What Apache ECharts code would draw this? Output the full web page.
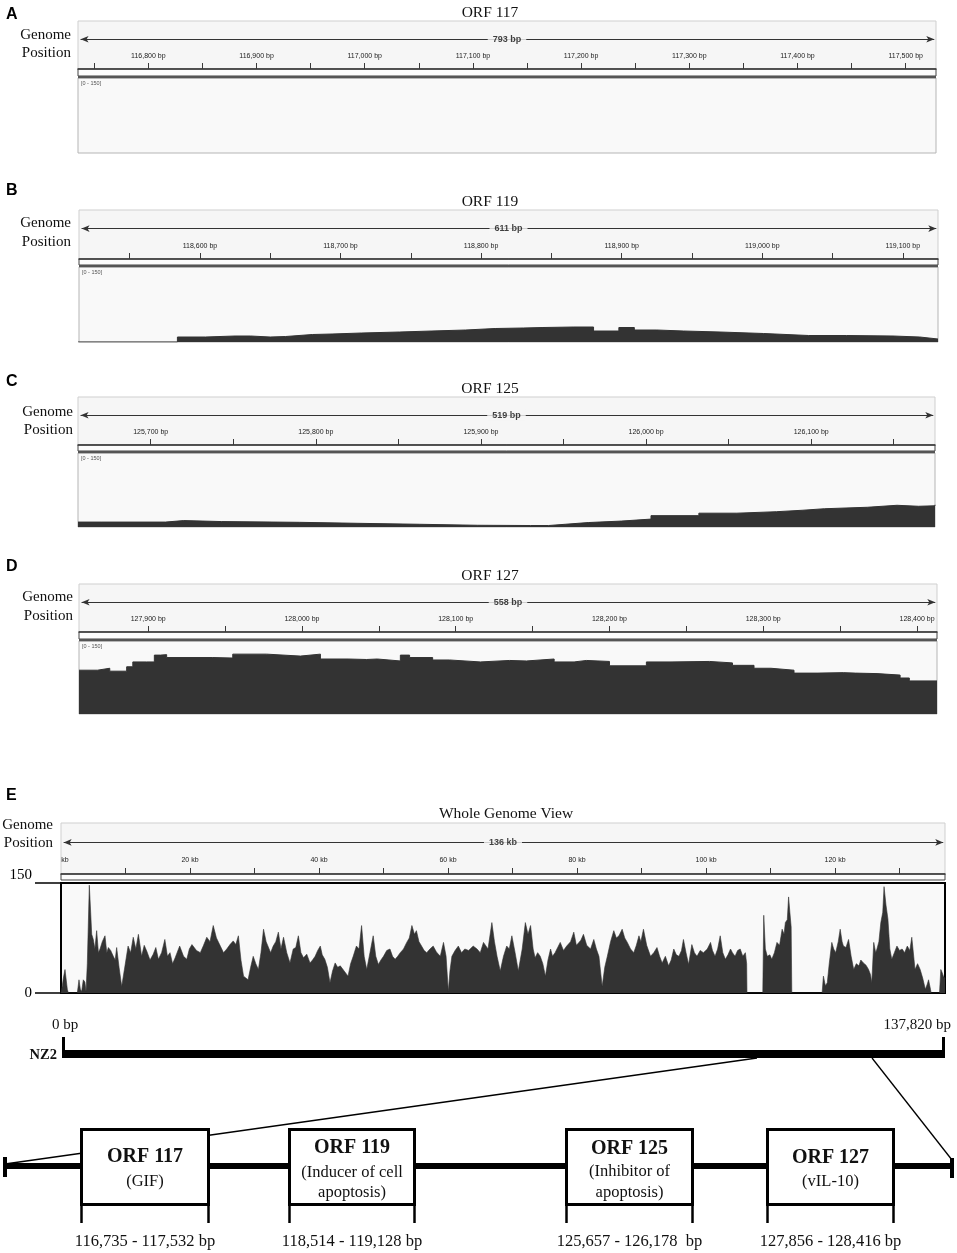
<!DOCTYPE html>
<html><head><meta charset="utf-8">
<script src="https://cdn.jsdelivr.net/npm/echarts@6/dist/echarts.min.js"></script>
<style>html,body{margin:0;padding:0;background:#fff}#c{width:957px;height:1253px}</style>
</head><body><div id="c"></div>
<script>
// ---------------- DATA ----------------
const panelLetters = ['A','B','C','D','E'];
const orfTitles = ['ORF 117','ORF 119','ORF 125','ORF 127'];
const orfSpanLabels = ['793 bp','611 bp','519 bp','558 bp'];
const orfViewStart = [116735, 118514, 125656, 127855];
const orfViewEnd   = [117528, 119125, 126175, 128413];
const coverageRange = '[0 - 150]';

const posA = [];
const covA = [];

const posB = [118513,118584,118604,118625,118636,118650,118661,118680,118694,118715,118742,118765,118789,118810,118830,118844,118866,118880,118898,118909,118925,118944,118970,119001,119033,119060,119093,119112,119125];
const covB = [0,10,12,12,10,11,15,16,18,20,22,24,27,28,29,30,30,22,29,24,22,20,17,13,13,12,10,6,6];

const posC = [125656,125670,125709,125720,125743,125790,125825,125863,125898,125930,125941,125951,125965,125985,126003,126032,126055,126079,126095,126108,126134,126152,126165,126175];
const covC = [10,10,13,11,9.5,7.5,5.5,3.5,3,3,5.5,9,12,16,23,28,31,34,37,40,44,42,43,45];

const posD = [127855,127867,127875,127883,127886,127890,127899,127904,127908,127912,127942,127955,127977,127999,128012,128030,128042,128049,128064,128070,128085,128096,128116,128135,128146,128164,128177,128185,128200,128224,128240,128265,128280,128294,128305,128320,128335,128352,128360,128374,128389,128395,128413];
const covD = [90,94,88,88,97,107,107,121,122,116,115,123,119,123,113,112,113,109,121,116,111,107,110,109,113,107,110,108,99,107,108,105,100,94,90,84,85,84,83,80,74,68,68];

const genomeTitle = 'Whole Genome View';
const genomeSpanLabel = '136 kb';
const genomeViewKb = [0, 137.05];
const genomeKb = [
 0,0.2,0.36,0.62,0.98,1.14,2.53,2.79,3.0,3.2,
 3.46,3.7,3.88,4.08,4.39,4.6,4.76,5.01,5.25,5.53,
 5.8,6.05,6.4,6.82,7.1,7.34,7.7,8.11,8.4,8.63,
 9.0,9.41,9.92,10.4,10.8,11.2,11.6,12.0,12.5,12.9,
 13.3,13.8,14.3,14.7,15.1,15.6,16.1,16.5,16.9,17.3,
 17.7,18.0,18.4,19.0,19.5,19.9,20.3,21.0,21.6,22.1,
 22.6,23.1,23.6,24.1,24.7,25.2,25.7,26.2,26.7,27.1,
 27.5,27.9,28.3,29.0,29.4,29.8,30.2,30.6,31.0,31.4,
 31.8,32.1,32.5,32.9,33.3,33.7,34.1,34.5,35.0,35.5,
 36.0,36.4,36.8,37.2,37.6,38.1,38.6,39.0,39.4,39.8,
 40.2,40.5,40.9,41.3,41.7,42.1,42.5,42.9,43.3,43.9,
 44.5,44.9,45.3,45.8,46.2,46.6,47.0,47.4,47.9,48.4,
 48.8,49.2,49.6,50.0,50.5,51.0,51.4,51.8,52.2,52.6,
 53.1,53.6,54.0,54.4,54.8,55.1,55.5,55.9,56.3,56.7,
 57.2,57.7,58.2,58.8,59.3,59.7,60.05,60.3,60.6,61.1,
 61.6,62.1,62.6,63.2,63.9,64.5,65.0,65.5,66.2,66.8,
 67.2,67.6,68.1,68.6,69.1,69.5,69.9,70.4,70.9,71.5,
 71.99,72.4,72.8,73.2,73.5,73.9,74.3,74.7,75.1,75.5,
 75.9,76.2,76.6,77.0,77.4,77.9,78.4,79.0,79.5,79.9,
 80.3,80.6,81.0,81.5,82.1,82.6,83.0,83.4,83.9,84.3,
 84.7,85.2,85.7,86.1,86.5,87.0,87.4,87.8,88.3,88.8,
 89.2,89.6,89.9,90.3,90.8,91.4,91.9,92.4,92.8,93.2,
 93.7,94.2,94.6,95.0,95.4,95.8,96.2,96.5,96.9,97.3,
 97.8,98.2,98.6,99.1,99.6,100.2,100.7,101.0,101.4,101.8,
 102.2,102.6,103.0,103.4,103.8,104.1,104.5,104.9,105.3,105.7,
 106.1,106.3,106.35,108.8,108.95,109.2,109.5,109.9,110.2,110.6,
 111.0,111.4,111.8,112.1,112.3,112.6,112.8,113.0,113.2,113.3,
 118.0,118.2,118.5,118.8,119.1,119.5,119.8,120.1,120.5,120.8,
 121.1,121.3,121.7,122.1,122.5,122.9,123.3,123.7,124.0,124.4,
 124.8,125.2,125.5,125.7,126.0,126.3,126.5,126.8,127.1,127.4,
 127.6,127.9,128.2,128.5,128.8,129.2,129.6,130.0,130.4,130.8,
 131.2,131.6,131.9,132.2,132.4,132.8,133.2,133.6,134.0,134.3,
 134.5,134.8,134.9,136.2,136.4,136.6,136.8,137.05];
const genomeCov = [
 0,10,20,32,5,0,0,18,5,2,
 18,15,2,40,147,110,80,73,60,85,
 55,60,70,78,55,62,58,50,45,62,
 35,9,37,64,55,76,60,80,50,65,
 57,45,53,62,46,55,73,50,55,40,
 48,55,64,50,46,60,66,58,55,65,
 76,70,92,75,64,55,60,66,71,66,
 78,45,23,18,35,50,40,32,55,87,
 70,69,55,64,70,83,60,76,55,41,
 60,62,78,55,48,53,41,45,50,58,
 64,52,46,35,14,30,41,35,37,30,
 23,40,50,64,60,92,50,32,55,78,
 50,39,45,50,58,60,50,46,50,55,
 60,69,75,92,80,85,70,64,58,55,
 60,64,56,50,69,50,2,30,50,58,
 64,55,60,58,64,60,55,69,60,96,
 70,50,30,50,64,60,78,55,30,60,
 96,80,92,60,48,55,50,40,23,45,
 60,50,55,62,69,58,64,70,83,65,
 69,72,80,65,60,73,60,50,9,35,
 50,70,85,75,78,87,75,69,60,55,
 65,78,70,87,65,50,55,62,50,41,
 50,37,45,60,52,50,58,73,55,39,
 66,55,50,58,55,60,69,58,50,60,
 78,55,46,52,60,55,50,58,60,50,
 55,40,0,0,106,60,50,52,46,55,
 69,65,87,80,96,100,131,110,90,0,
 0,23,10,14,40,69,60,55,70,87,
 70,64,62,73,50,32,40,37,45,41,
 38,32,25,14,69,55,60,70,96,110,
 145,120,101,60,46,55,64,58,60,55,
 64,58,76,50,32,40,32,20,5,12,
 18,5,0,0,32,28,23,20];
const genomeYTicks = [0, 150];

const genomeStartLabel = '0 bp';
const genomeEndLabel = '137,820 bp';
const genomeName = 'NZ2';
const featureNames = ['ORF 117','ORF 119','ORF 125','ORF 127'];
const featureDesc = [['(GIF)'],['(Inducer of cell','apoptosis)'],['(Inhibitor of','apoptosis)'],['(vIL-10)']];
const featureRanges = ['116,735 - 117,532 bp','118,514 - 119,128 bp','125,657 - 126,178  bp','127,856 - 128,416 bp'];

// ---------------- LAYOUT ----------------
const serif = '"Liberation Serif","Times New Roman",serif';
const sans = '"Liberation Sans",Arial,sans-serif';
const layout = [
 {letterY:15, titleX:490, titleY:13, hTop:21, hBot:69, dTop:78, dBot:153, left:78, right:936, gpX:71, gpY1:35, gpY2:53},
 {letterY:191, titleX:490, titleY:202, hTop:210, hBot:259, dTop:267, dBot:342, left:79, right:938, gpX:71, gpY1:223, gpY2:242},
 {letterY:382, titleX:490, titleY:389, hTop:397, hBot:445, dTop:453, dBot:527, left:78, right:935, gpX:73, gpY1:412, gpY2:430},
 {letterY:567, titleX:490, titleY:576, hTop:584, hBot:632, dTop:641, dBot:714, left:79, right:937, gpX:73, gpY1:597, gpY2:616},
 {letterY:796, titleX:506, titleY:814, hTop:823, hBot:874, dTop:883, dBot:993, left:61, right:945, gpX:53, gpY1:825, gpY2:843}
];

const grid = [], xAxis = [], yAxis = [], series = [], graphic = [];
function T(text, x, y, font, align, fill, vAlign) {
  graphic.push({type:'text', x:x, y:y, silent:true, style:{text:text, font:font, fill:fill||'#000', align:align||'left', verticalAlign:vAlign||'middle'}});
}
function R(x, y, w, h, fill, stroke, lw) {
  graphic.push({type:'rect', silent:true, shape:{x:x, y:y, width:w, height:h}, style:{fill:fill||'none', stroke:stroke||null, lineWidth:lw||0}});
}
function Ln(x1, y1, x2, y2, w, c) {
  graphic.push({type:'line', silent:true, shape:{x1:x1, y1:y1, x2:x2, y2:y2}, style:{stroke:c||'#000', lineWidth:w}});
}
function range(a, b, s) { const r = []; for (let v = a; v <= b + 1e-9; v += s) r.push(v); return r; }

const panelData = [
  {pos:posA, cov:covA}, {pos:posB, cov:covB}, {pos:posC, cov:covC}, {pos:posD, cov:covD},
  {pos:genomeKb, cov:genomeCov}
];

for (let k = 0; k < 5; k++) {
  const l = layout[k];
  const isE = k === 4;
  const min = isE ? genomeViewKb[0] : orfViewStart[k];
  const max = isE ? genomeViewKb[1] : orfViewEnd[k];
  const w = l.right - l.left;
  const tickStep = isE ? 10 : 50, labStep = isE ? 20 : 100;
  const ticks = range(Math.ceil(min / tickStep) * tickStep, max, tickStep).filter(v => !(isE && v === 0));
  const labs = range(Math.ceil(min / labStep) * labStep, max, labStep);

  // header ruler grid
  const gH = grid.length;
  grid.push({left:l.left, top:l.hTop, width:w, height:l.hBot - l.hTop, show:true, backgroundColor:'#f6f6f6', borderColor:'#cfcfcf', borderWidth:1});
  xAxis.push({gridIndex:gH, type:'value', min:min, max:max, position:'bottom',
    axisLine:{show:true, onZero:false, lineStyle:{color:'#3a3a3a', width:1.5}},
    axisTick:{show:true, inside:true, length:6, customValues:ticks, lineStyle:{color:'#3a3a3a', width:1}},
    axisLabel:{show:true, inside:true, margin:isE ? 10 : 9, fontSize:7, fontFamily:sans, color:'#222', customValues:labs,
      formatter: v => isE ? (v === 0 ? '{k|kb}' : v + ' kb') : v.toLocaleString('en-US') + ' bp',
      rich:{k:{fontSize:7, fontFamily:sans, color:'#222', padding:[0,0,0,8]}}},
    splitLine:{show:false}});
  yAxis.push({gridIndex:gH, type:'value', min:0, max:1, show:false});
  const arrowY = 0.62, span = max - min;
  series.push({type:'line', xAxisIndex:gH, yAxisIndex:gH, data:[[min, -5]], symbol:'none', silent:true,
    lineStyle:{opacity:0},
    markLine:{silent:true, symbol:['arrow','arrow'], symbolSize:[5,8], animation:false,
      lineStyle:{color:'#333', width:1, type:'solid'}, label:{show:false}, emphasis:{disabled:true},
      data:[[{coord:[min + span * 0.003, arrowY]}, {coord:[max - span * 0.002, arrowY]}]]}});
  series.push({type:'scatter', xAxisIndex:gH, yAxisIndex:gH, z:10, silent:true,
    data:[[(min + max) / 2, arrowY]], symbolSize:1, itemStyle:{color:'rgba(0,0,0,0)'},
    label:{show:true, position:'inside', formatter: isE ? genomeSpanLabel : orfSpanLabels[k],
      fontSize:9, fontWeight:'bold', fontFamily:sans, color:'#111', backgroundColor:'#f6f6f6', padding:[1,5]}});

  // data track grid
  const gD = grid.length;
  grid.push({left:l.left, top:l.dTop, width:w, height:l.dBot - l.dTop, show:true, backgroundColor:'#f9f9f9',
    borderColor: isE ? '#000' : '#b5b5b5', borderWidth: isE ? 2 : 1});
  xAxis.push({gridIndex:gD, type:'value', min:min, max:max, show:false});
  if (isE) {
    yAxis.push({gridIndex:gD, type:'value', min:0, max:150, interval:150,
      axisLine:{show:false}, axisTick:{show:true, length:26, lineStyle:{color:'#000', width:1.5}},
      axisLabel:{show:true, margin:29, fontSize:15, fontFamily:serif, color:'#000', verticalAlignMaxLabel:'bottom'},
      splitLine:{show:false}});
  } else {
    yAxis.push({gridIndex:gD, type:'value', min:0, max:150, show:false});
  }
  const pd = panelData[k];
  series.push({type:'line', xAxisIndex:gD, yAxisIndex:gD, silent:true, symbol:'none', animation:false,
    step: isE ? false : 'end',
    data: pd.pos.map((p, i) => [p, pd.cov[i]]),
    lineStyle:{color:'#333', width: isE ? 0.6 : 1}, areaStyle:{color:'#333', opacity:1}});

  // decorations
  if (isE) {
    R(l.left, l.hBot, w, 6, '#fcfcfc', '#444', 1);
  } else {
    R(l.left, l.hBot, w, l.dTop - l.hBot - 2, '#fcfcfc', '#444', 1);
    R(l.left, l.dTop - 2, w, 2.2, '#555');
    T(coverageRange, l.left + 3, l.dTop + 5, '5.5px ' + sans, 'left', '#555');
  }
  T(panelLetters[k], 6, l.letterY, 'bold 16px ' + sans, 'left', '#000');
  T(isE ? genomeTitle : orfTitles[k], l.titleX, l.titleY, '15.5px ' + serif, 'center', '#111');
  T('Genome', l.gpX, l.gpY1, '15px ' + serif, 'right', '#111');
  T('Position', l.gpX, l.gpY2, '15px ' + serif, 'right', '#111');
}

// ---------------- SCHEMATIC ----------------
T(genomeStartLabel, 52, 1025, '15px ' + serif, 'left', '#111');
T(genomeEndLabel, 951, 1025, '15px ' + serif, 'right', '#111');
T(genomeName, 57, 1055, 'bold 14.5px ' + serif, 'right', '#111');
R(62, 1050, 883, 8, '#000');
R(62, 1037, 3, 21, '#000');
R(942, 1037, 3, 21, '#000');
Ln(757, 1058, 5, 1164, 1.3);
Ln(872, 1058, 952, 1160, 1.3);
R(5, 1163, 947, 6, '#000');
R(3, 1157, 4, 20, '#000');
R(950, 1158, 4, 20, '#000');
const boxLayout = [
  {x:81.5, w:127, tY:1157, dY:[1182]},
  {x:289.5, w:125, tY:1148, dY:[1173,1193]},
  {x:566.5, w:126, tY:1149, dY:[1172,1193]},
  {x:767.5, w:126, tY:1158, dY:[1182]}
];
boxLayout.forEach((b, i) => {
  R(b.x, 1129.5, b.w, 75, '#fff', '#000', 3);
  Ln(b.x, 1205, b.x, 1223, 2.5);
  Ln(b.x + b.w, 1205, b.x + b.w, 1223, 2.5);
  const cx = b.x + b.w / 2;
  T(featureNames[i], cx, b.tY, 'bold 20px ' + serif, 'center', '#111');
  featureDesc[i].forEach((s, j) => T(s, cx, b.dY[j], '16.5px ' + serif, 'center', '#111'));
  T(featureRanges[i], cx, 1242, '16.5px ' + serif, 'center', '#111');
});

const chart = echarts.init(document.getElementById('c'), null, {renderer:'canvas'});
chart.setOption({animation:false, backgroundColor:'#fff', grid, xAxis, yAxis, series, graphic});
</script>
</body></html>
